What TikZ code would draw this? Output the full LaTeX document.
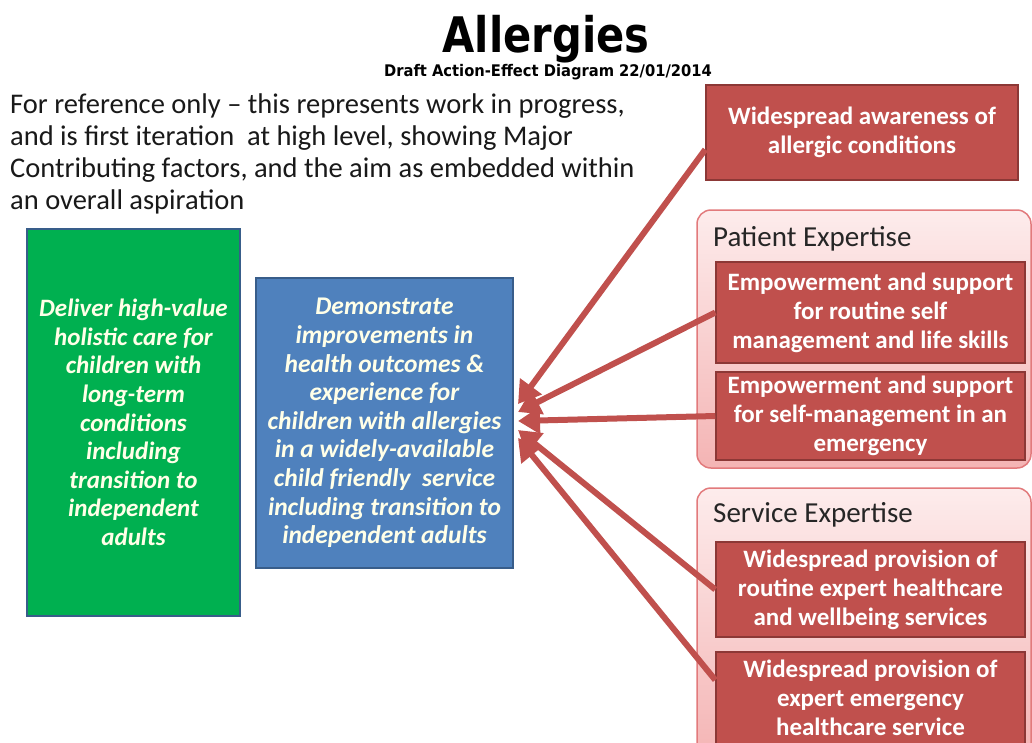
\documentclass[tikz,border=0pt]{standalone}
\usepackage{fontspec}
\setmainfont{Carlito}
\newfontfamily\headfont{DejaVu Sans}
\usetikzlibrary{arrows.meta}
\definecolor{boxred}{HTML}{C0504D}
\definecolor{boxredline}{HTML}{8C3836}
\definecolor{aimgreen}{HTML}{00B050}
\definecolor{aimblue}{HTML}{4F81BD}
\definecolor{aimline}{HTML}{385D8A}
\definecolor{grouptop}{HTML}{FDECEC}
\definecolor{groupbot}{HTML}{F4B4B4}
\definecolor{groupline}{HTML}{E27A7C}
\definecolor{cream}{HTML}{FFFFE8}
\definecolor{arrowred}{HTML}{C0504D}
\begin{document}
\begin{tikzpicture}[x=1pt,y=-1pt,
  factor/.style={draw=boxredline, line width=1.5pt, fill=boxred, text=white,
    font=\fontsize{25}{29}\selectfont\bfseries, align=center, inner sep=0pt,
    minimum width=309pt},
  aimbox/.style={draw=aimline, line width=1.5pt, text=cream,
    font=\fontsize{25}{28.6}\selectfont\bfseries\itshape, align=center, inner sep=0pt},
  group/.style={draw=groupline, line width=1.5pt, rounded corners=14pt,
    top color=grouptop, bottom color=groupbot, minimum width=334pt, inner sep=0pt},
  grouplabel/.style={anchor=base west, font=\fontsize{29}{31}\selectfont,
    text=black!85, inner sep=0pt},
  effect/.style={draw=arrowred, line width=6pt,
    -{Triangle[length=22pt,width=26pt]}},
  heading/.style={anchor=base, inner sep=0pt, font=\headfont\bfseries}
]
\useasboundingbox (0,0) rectangle (1032,742);
\clip (0,0) rectangle (1032,742);
\fill[white] (0,0) rectangle (1032,742);

% heading
\node[heading, font=\headfont\bfseries\fontsize{49}{49}\selectfont]
  (title) at (546,52) {\scalebox{0.85}[1]{Allergies}};
\node[heading, font=\headfont\bfseries\fontsize{16}{16}\selectfont]
  (subtitle) at (548,76) {\scalebox{0.92}[1]{Draft Action-Effect Diagram 22/01/2014}};

% explanatory note
\node[anchor=north west, align=left, inner sep=0pt, text=black!90,
  font=\fontsize{28.5}{32}\selectfont] (note) at (10,94)
  {For reference only – this represents work in progress,\\
   and is first iteration\ \ at high level, showing Major\\
   Contributing factors, and the aim as embedded within\\
   an overall aspiration};

% aspiration and aim
\node[aimbox, fill=aimgreen, minimum width=213pt, minimum height=387pt]
  (vision) at (133.5,422.5)
  {Deliver high-value\\holistic care for\\children with\\long-term\\conditions\\including\\transition to\\independent\\adults};
\node[aimbox, fill=aimblue, minimum width=257pt, minimum height=290pt,
  font=\fontsize{25.5}{28.6}\selectfont\bfseries\itshape]
  (aim) at (384.5,423)
  {Demonstrate\\improvements in\\health outcomes \&\\experience for\\children with allergies\\in a widely-available\\child friendly\ \ service\\including transition to\\independent adults};

% contributing factors
\node[factor, minimum width=312pt, minimum height=95pt] (aware) at (862,132.5)
  {Widespread awareness of\\allergic conditions};

\node[group, minimum height=258pt] (patient) at (864,339) {};
\node[grouplabel] (patientlabel) at (713,246) {Patient Expertise};
\node[factor, minimum height=101pt] (pat1) at (870.5,312.5)
  {Empowerment and support\\for routine self\\management and life skills};
\node[factor, minimum height=88pt] (pat2) at (870.5,416)
  {Empowerment and support\\for self-management in an\\emergency};

\node[group, minimum height=272pt] (service) at (864,624) {};
\node[grouplabel] (servicelabel) at (713,522) {Service Expertise};
\node[factor, minimum height=95pt] (srv1) at (870.5,589.5)
  {Widespread provision of\\routine expert healthcare\\and wellbeing services};
\node[factor, minimum height=92pt] (srv2) at (870.5,698)
  {Widespread provision of\\expert emergency\\healthcare service};

% arrow tips converging on the aim box
\coordinate (tipA) at (518,404);
\coordinate (tipB) at (518,412);
\coordinate (tipC) at (518,421);
\coordinate (tipD) at (518,430);
\coordinate (tipE) at (518,438);

\draw[effect] ([yshift=-17pt]aware.west) -- (tipA);
\draw[effect] (pat1.west) -- (tipB);
\draw[effect] (pat2.west) -- (tipC);
\draw[effect] (srv1.west) -- (tipD);
\draw[effect] ([yshift=18pt]srv2.west) -- (tipE);
\end{tikzpicture}
\end{document}
